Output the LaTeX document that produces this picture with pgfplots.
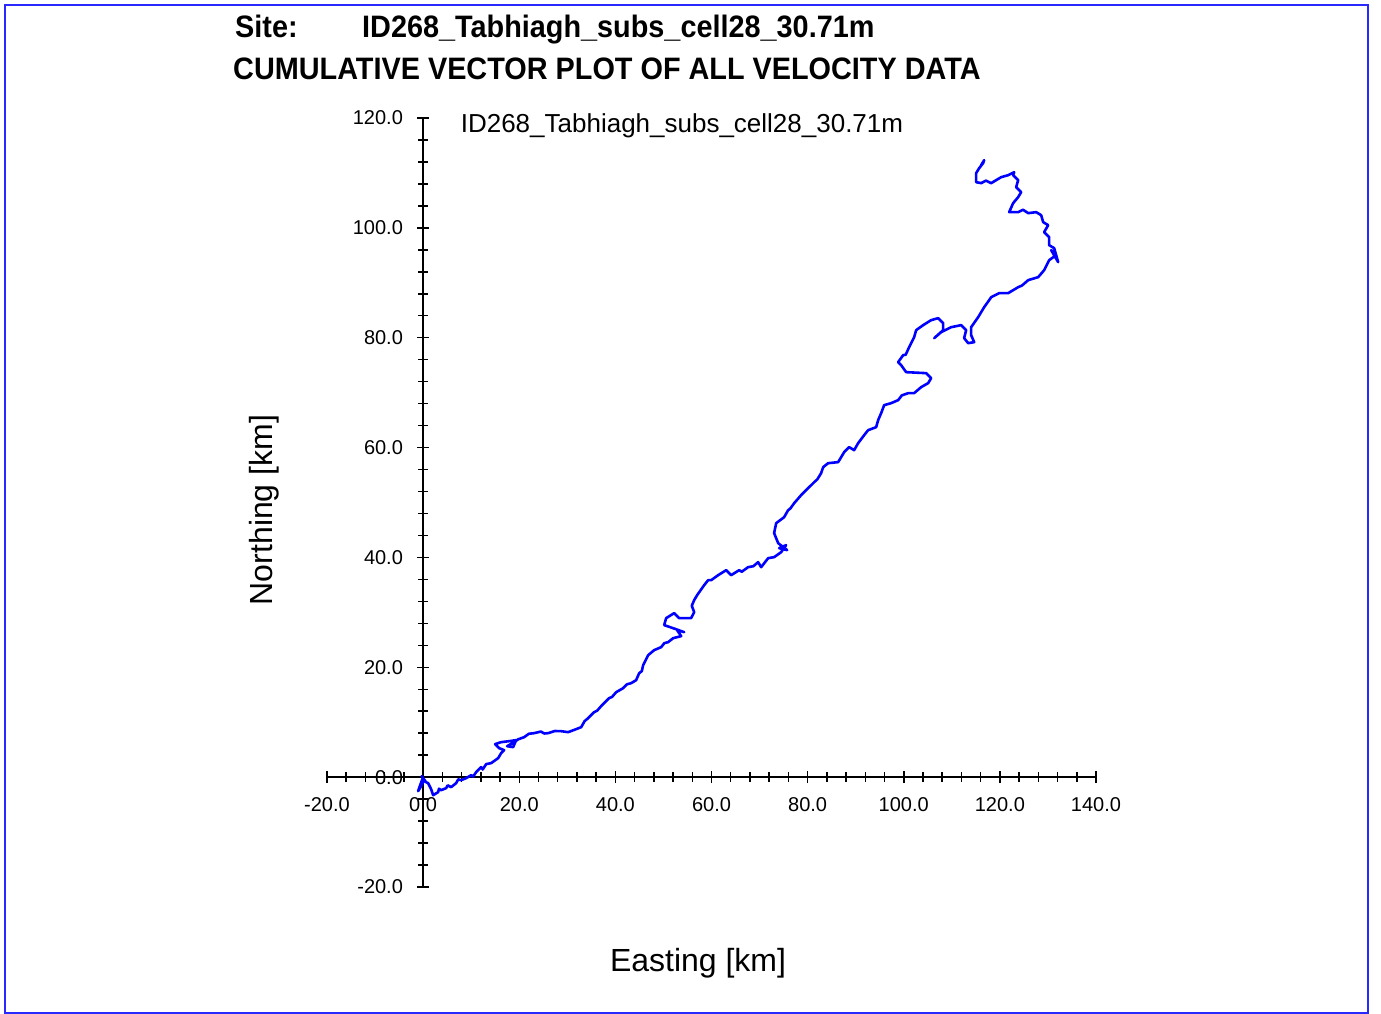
\documentclass[border=0pt]{standalone}
\usepackage{pgfplots}
\pgfplotsset{compat=1.18}
\usepackage{fontspec}
\setmainfont{Liberation Sans}
\usepackage{graphicx}
\definecolor{plotblue}{RGB}{0,0,255}
\definecolor{framecol}{RGB}{40,40,255}
\begin{document}
\begin{tikzpicture}
\useasboundingbox (0,0) rectangle (1381pt,-1014pt);
\draw[framecol, line width=1.2pt] (5pt,-5pt) rectangle (1368pt,-1013pt);
\node[anchor=base west, inner sep=0pt, font=\fontsize{31}{36}\selectfont\bfseries] at (235pt,-38pt) {\scalebox{0.93}[1]{Site:}};
\node[anchor=base west, inner sep=0pt, font=\fontsize{31}{36}\selectfont\bfseries] at (362pt,-38pt) {\scalebox{0.93}[1]{ID268\_Tabhiagh\_subs\_cell28\_30.71m}};
\node[anchor=base west, inner sep=0pt, font=\fontsize{31}{36}\selectfont\bfseries] at (233pt,-80pt) {\scalebox{0.93}[1]{CUMULATIVE VECTOR PLOT OF ALL VELOCITY DATA}};
\begin{axis}[
  at={(327pt,-887pt)}, anchor=south west,
  x=4.80625pt, y=5.492857pt,
  xmin=-20, xmax=140, ymin=-20, ymax=120,
  axis lines=middle,
  every inner x axis line/.append style={-},
  every inner y axis line/.append style={-},
  axis line style={line width=1.6pt, black, -},
  xtick={-20,0,...,140}, ytick={-20,0,...,120},
  minor x tick num=4, minor y tick num=4,
  tick align=center,
  major tick length=12pt, minor tick length=10pt,
  every tick/.style={black, line width=1.5pt},
  hide obscured x ticks=false, hide obscured y ticks=false,
  /pgf/number format/assume math mode=true,
  xticklabel={\pgfmathprintnumber[fixed,fixed zerofill,precision=1,assume math mode=true]{\tick}},
  yticklabel={\pgfmathprintnumber[fixed,fixed zerofill,precision=1,assume math mode=true]{\tick}},
  tick label style={font=\fontsize{20}{24}\selectfont, black},
  xticklabel style={anchor=north, inner sep=0pt, yshift=-14pt},
  yticklabel style={anchor=east, inner sep=0pt, xshift=-14pt},
  xlabel={Easting [km]},
  ylabel={Northing [km]},
  every axis x label/.style={at={(axis description cs:0.4825,-0.1105)}, anchor=base, font=\fontsize{32}{38}\selectfont},
  every axis y label/.style={at={(axis description cs:-0.0715,0.4902)}, anchor=base, rotate=90, font=\fontsize{32}{38}\selectfont},
  title={ID268\_Tabhiagh\_subs\_cell28\_30.71m},
  every axis title/.style={at={(axis description cs:0.4616,0.9814)}, anchor=base, inner sep=0pt, font=\fontsize{26}{31}\selectfont},
]
\addplot[plotblue, line width=2.6pt, line join=round, mark=none] coordinates {
(0,0) (-0.62,-1.46) (-1.04,-2.55) (-0.42,-1.64) (0.21,-0.55) (-0.3,0.2) (0.6,-0.9) (1.04,-1.09) (1.66,-2.18) (2.08,-3.28)
(3.12,-2.73) (3.3,-2.1) (3.75,-2.37) (4.79,-2.00) (5.1,-1.5) (5.83,-1.82) (6.87,-1.09) (7.3,-0.4) (7.91,-0.55) (8.95,-0.18) (9.99,0.36)
(10.4,0.1) (11.03,0.91) (12.07,1.82) (12.4,1.4) (13.11,2.37) (14.15,2.55) (15.61,3.46) (16.23,4.37) (16.85,4.92) (15.81,5.28)
(14.98,6.01) (16.23,6.37) (17.89,6.55) (19.35,6.74) (18.73,5.46) (17.48,5.64) (18.94,6.37) (19.8,6.9) (21.02,7.28)
(22.0,7.9) (23.10,8.01) (24.5,8.3) (25.2,7.95) (26.01,8.01) (27.4,8.4) (28.72,8.37) (30.17,8.19) (31.84,8.74) (32.88,9.10) (33.6,10.2) (34.33,10.74) (35.58,11.83)
(36.2,12.1) (37.04,12.93) (38.70,14.38) (39.3,14.6) (40.16,15.47) (41.62,16.20) (42.4,16.9) (43.28,17.11) (44.32,17.66) (44.95,18.93) (45.5,19.3) (45.78,20.39)
(46.82,22.21) (48.07,23.12) (49.52,23.67) (50.2,24.4) (50.98,24.58) (52.02,25.30) (53.69,25.67) (52.85,26.76) (54.31,26.40)
(52.02,27.12) (50.15,27.67) (50.56,28.95) (52.23,29.86) (53.27,28.95) (55.76,28.95) (56.39,30.04) (55.9,31.2) (56.39,32.22)
(57.01,33.13) (58.47,34.95) (59.30,35.86) (59.93,35.86) (61.38,36.77) (63.05,37.68) (64.09,36.77) (65.75,37.68)
(66.3,37.4) (67.62,38.23) (68.7,38.4) (69.70,39.14) (70.33,38.23) (71.79,39.87) (73.03,40.05) (74.49,40.96) (75.53,42.24) (74.07,41.69)
(75.74,41.33) (73.87,42.60) (73.03,44.42) (73.45,46.24) (75.11,47.33) (75.95,48.61) (76.4,48.9) (77.20,49.88) (78.65,51.34)
(80.11,52.61) (81.36,53.70) (82.0,54.2) (82.81,55.34) (83.23,56.43) (84.27,57.16) (86.35,57.35) (87.60,59.17) (88.64,60.08)
(89.68,59.53) (90.51,60.80) (91.76,62.26) (92.59,63.17) (94.26,63.72) (94.67,64.99) (95.30,66.27) (95.92,67.72)
(97.38,68.09) (98.83,68.63) (99.6,69.5) (100.92,69.91) (102.16,69.91) (103.62,71.00) (105.08,71.73) (105.70,72.64) (104.66,73.55)
(100.50,73.73) (99.46,75.00) (98.83,75.55) (99.88,76.83) (100.4,76.9) (101.12,78.28) (102.16,80.10) (102.58,81.38) (104.04,82.29)
(105.70,83.20) (107.16,83.56) (108.20,82.65) (108.20,81.38) (106.33,79.92) (107.78,81.01) (109.86,81.92) (111.94,82.29)
(112.98,81.38) (112.57,79.92) (113.40,79.01) (114.65,79.19) (114.02,80.47) (114.02,81.92) (115.48,83.74) (116.73,85.56)
(117.77,86.84) (118.19,87.38) (119.85,88.11) (121.72,88.11) (123.80,89.20) (124.6,89.5) (125.89,90.48) (127.97,91.03) (129.21,92.30)
(130.25,94.12) (131.71,95.03) (130.67,95.94) (132.13,93.76) (131.30,96.30) (130.25,96.85) (130.25,98.31) (129.21,99.22)
(130.05,100.49) (129.01,101.04) (128.59,102.31) (127.55,102.86) (125.89,102.68) (124.8,103.3) (123.80,102.86) (121.93,102.86) (122.76,104.50)
(123.80,105.59) (124.43,106.50) (123.39,107.41) (123.80,108.68) (122.76,109.59) (122.97,110.14) (121.72,109.59) (120.27,109.23)
(118.19,108.14) (117.1,108.6) (116.10,108.14) (115.06,108.32) (115.06,109.96) (115.69,110.87) (116.52,111.78) (116.73,112.33) (116.10,111.41)
};
\end{axis}
\end{tikzpicture}
\end{document}
